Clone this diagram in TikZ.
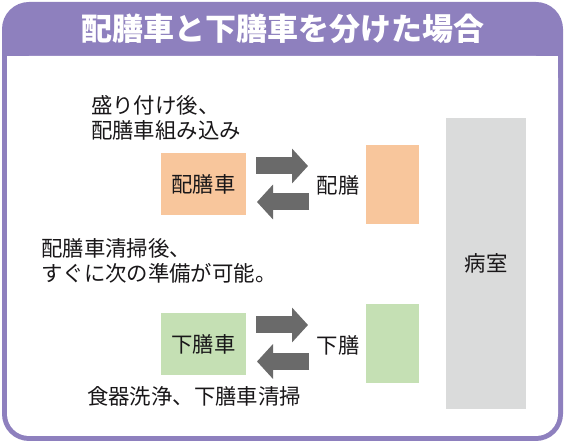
\documentclass[tikz,border=0pt]{standalone}
\usepackage{fontspec}
\newfontfamily\jp{Noto Sans CJK JP}
\usetikzlibrary{arrows.meta}
\definecolor{purp}{RGB}{142,128,190}
\definecolor{orangefill}{RGB}{248,198,156}
\definecolor{greenfill}{RGB}{197,224,180}
\definecolor{grayfill}{RGB}{218,219,219}
\definecolor{arrowgray}{RGB}{106,106,106}
\definecolor{txt}{RGB}{25,23,25}
\begin{document}
\begin{tikzpicture}[x=1pt,y=-1pt,
  body/.style={font=\jp\fontsize{21.4}{25.5}\selectfont, text=txt},
  box/.style={body, inner sep=0pt, anchor=center},
  note/.style={body, inner sep=0pt, anchor=west, align=left},
  blockarrow/.style={draw=arrowgray, line width=17pt,
     -{Triangle[length=16pt,width=34pt]}, arrowgray}
]
\useasboundingbox (0,0) rectangle (566,443);
% frame
\fill[purp, rounded corners=27pt] (2,2) rectangle (563,441);
\fill[white, rounded corners=22pt] (7,56) rectangle (558,436);
\fill[white] (7,56) rectangle (558,100);
\node[font=\jp\bfseries\fontsize{31}{35}\selectfont, text=white, inner sep=0pt] (title) at (283,29) {配膳車と下膳車を分けた場合};

% boxes
\node[box, fill=orangefill, minimum width=85pt, minimum height=62pt] (haisha) at (203.5,184) {配膳車};
\node[box, fill=orangefill, minimum width=53pt, minimum height=79pt] (haizenbox) at (392.5,184.5) {};
\node[box, fill=greenfill, minimum width=85pt, minimum height=62pt] (gesha) at (203.5,344) {下膳車};
\node[box, fill=greenfill, minimum width=53pt, minimum height=79pt] (gezenbox) at (392.5,343.5) {};
\node[box, fill=grayfill, minimum width=80pt, minimum height=291pt] (room) at (486,263.5) {病室};

% labels
\node[box] (haizen) at (338,185) {配膳};
\node[box] (gezen) at (338,345) {下膳};

% notes
\node[note] (n1) at (91,118) {盛り付け後、\\配膳車組み込み};
\node[note] (n2) at (41,261) {配膳車清掃後、\\すぐに次の準備が可能。};
\node[note] (n3) at (87,396) {食器洗浄、下膳車清掃};

% arrows
\coordinate (a1s) at (256,166);
\coordinate (a1e) at (308,166);
\coordinate (a2s) at (309,202);
\coordinate (a2e) at (257,202);
\coordinate (a3s) at (256,325);
\coordinate (a3e) at (308,325);
\coordinate (a4s) at (309,361.5);
\coordinate (a4e) at (257,361.5);
\draw[blockarrow] (a1s) -- (a1e);
\draw[blockarrow] (a2s) -- (a2e);
\draw[blockarrow] (a3s) -- (a3e);
\draw[blockarrow] (a4s) -- (a4e);
\end{tikzpicture}
\end{document}
